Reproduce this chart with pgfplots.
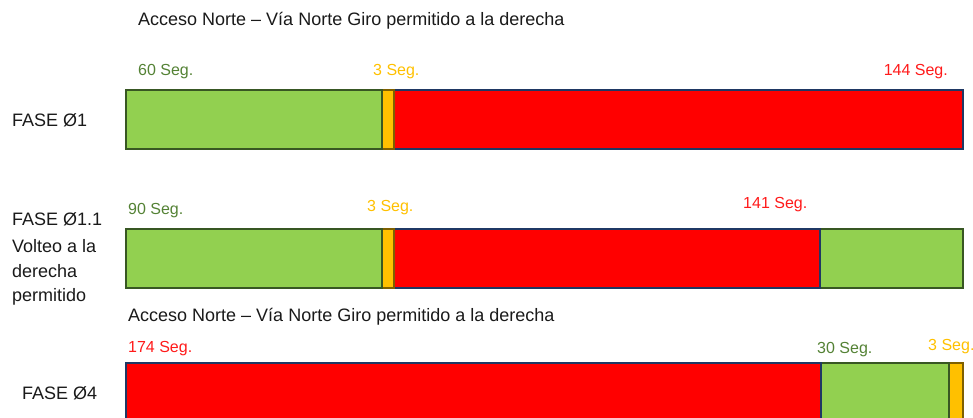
\documentclass[border=0pt]{standalone}
\usepackage{fontspec}
\setmainfont{Liberation Sans}
\usepackage{pgfplots}
\pgfplotsset{compat=1.18}
\definecolor{gfill}{HTML}{92D050}
\definecolor{gdraw}{HTML}{385723}
\definecolor{yfill}{HTML}{FFC000}
\definecolor{ydraw}{HTML}{7F6000}
\definecolor{rfill}{HTML}{FF0000}
\definecolor{rdraw}{HTML}{1F3864}
\definecolor{gtext}{HTML}{548235}
\definecolor{ytext}{HTML}{FFC000}
\definecolor{rtext}{HTML}{FF1A1A}
\definecolor{ktext}{HTML}{1A1A1A}
\tikzset{big/.style={font=\fontsize{18}{21}\selectfont, text=ktext}}
\begin{document}
\begin{tikzpicture}
\begin{axis}[
  width=973pt, height=417pt, scale only axis,
  xmin=-126, xmax=847, ymin=0, ymax=417, y dir=reverse,
  hide axis,
  xbar, bar shift=0pt, bar width=59,
  every axis plot/.append style={line width=1.4pt},
  nodes={font=\fontsize{16}{19}\selectfont, inner sep=0pt},
]
% Bar 1 (FASE 01): green 0-256, yellow 256-268, red 268-837
\addplot[fill=rfill, draw=rdraw] coordinates {(837,119.5)};
\addplot[fill=yfill, draw=ydraw] coordinates {(268,119.5)};
\addplot[fill=gfill, draw=gdraw] coordinates {(256,119.5)};
% Bar 2 (FASE 01.1): green, yellow, red, green
\addplot[fill=gfill, draw=gdraw] coordinates {(837,258.5)};
\addplot[fill=rfill, draw=rdraw] coordinates {(694,258.5)};
\addplot[fill=yfill, draw=ydraw] coordinates {(268,258.5)};
\addplot[fill=gfill, draw=gdraw] coordinates {(256,258.5)};
% Bar 3 (FASE 04): red, green, yellow
\addplot[fill=yfill, draw=ydraw] coordinates {(837,392.5)};
\addplot[fill=gfill, draw=gdraw] coordinates {(823,392.5)};
\addplot[fill=rfill, draw=rdraw] coordinates {(695,392.5)};

\node[anchor=west, big] at (axis cs:12,21) {Acceso Norte – Vía Norte Giro permitido a la derecha};
\node[anchor=west, text=gtext] at (axis cs:12,72) {60 Seg.};
\node[anchor=west, text=ytext] at (axis cs:247,72) {3 Seg.};
\node[anchor=east, text=rtext] at (axis cs:822,72) {144 Seg.};
\node[anchor=west, big] at (axis cs:-114,120) {FASE Ø1};

\node[anchor=west, big] at (axis cs:-114,219) {FASE Ø1.1};
\node[anchor=west, big] at (axis cs:-114,246) {Volteo a la};
\node[anchor=west, big] at (axis cs:-114,271) {derecha};
\node[anchor=west, big] at (axis cs:-114,297) {permitido};
\node[anchor=west, text=gtext] at (axis cs:2,211) {90 Seg.};
\node[anchor=west, text=ytext] at (axis cs:241,208) {3 Seg.};
\node[anchor=west, text=rtext] at (axis cs:617,205) {141 Seg.};

\node[anchor=west, big] at (axis cs:2,317) {Acceso Norte – Vía Norte Giro permitido a la derecha};
\node[anchor=west, text=rtext] at (axis cs:2,349) {174 Seg.};
\node[anchor=west, text=gtext] at (axis cs:691,350) {30 Seg.};
\node[anchor=west, text=ytext] at (axis cs:802,347) {3 Seg.};
\node[anchor=west, big] at (axis cs:-104,393) {FASE Ø4};
\path (axis cs:-126,0) rectangle (axis cs:847,417);
\end{axis}
\end{tikzpicture}
\end{document}
